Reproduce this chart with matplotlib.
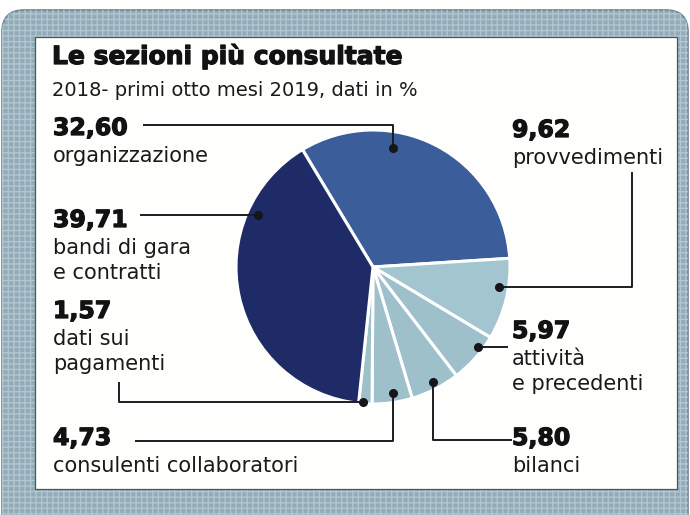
import numpy as np
import matplotlib.pyplot as plt
import matplotlib.patheffects as pe
from matplotlib.patches import FancyBboxPatch, Rectangle

W, H = 690, 515

# sezioni, valori in % (2018 - primi otto mesi 2019)
sezioni = ['organizzazione', 'provvedimenti', 'attività\ne precedenti', 'bilanci',
           'consulenti collaboratori', 'dati sui\npagamenti', 'bandi di gara\ne contratti']
valori = [32.60, 9.62, 5.97, 5.80, 4.73, 1.57, 39.71]
colori = ['#3b5e9b', '#a3c5cf', '#9dc0cb', '#9dc0cb', '#9dc0cb', '#9dc0cb', '#1f2b67']

titolo = 'Le sezioni più consultate'
sottotitolo = '2018- primi otto mesi 2019, dati in %'

# pixel layout (y measured from the top)
cx, cy, R = 373, 267, 137
# label: x, baseline of the number, (angle fraction along wedge, radius fraction), leader path
etichette = [
    (53, 135, (0.345, 0.88), [(None, 125), (143, 125)]),
    (512, 137, (0.364, 0.93), [(632, None), (632, 172)]),
    (512, 338, (0.29, 0.96), [(508, None)]),
    (512, 445, (0.48, 0.95), [(None, 440), (512, 440)]),
    (53, 445, (0.45, 0.93), [(None, 441), (135, 441)]),
    (53, 318, (0.68, 0.99), [(119, None), (119, 382)]),
    (53, 227, (0.757, 0.92), [(140, None)]),
]

FONT = ['DejaVu Sans']
pesante = [pe.withStroke(linewidth=0.9, foreground='#121212')]


def Y(y):
    return H - y


fig = plt.figure(figsize=(W / 100, H / 100), dpi=100)
ax = fig.add_axes([0, 0, 1, 1])

# cornice retinata e pannello bianco
bordo = FancyBboxPatch((2, -40), 686, H - 10 + 40, boxstyle='round,pad=0,rounding_size=22',
                       facecolor='#92abb9', edgecolor='#6f8594', lw=1.2, zorder=0)
ax.add_patch(bordo)
trama = FancyBboxPatch((2, -40), 686, H - 10 + 40, boxstyle='round,pad=0,rounding_size=22',
                       facecolor='none', edgecolor='#b2c6cf', hatch='+++', lw=0, zorder=0.5)
ax.add_patch(trama)
ax.add_patch(Rectangle((35, Y(489)), 642, 452, facecolor='#fefefc',
                       edgecolor='#4a5560', lw=0.9, zorder=1))

# torta
start = 121
wedges, _ = ax.pie(valori, colors=colori, startangle=start, counterclock=False,
                   center=(cx, Y(cy)), radius=R, frame=True,
                   wedgeprops=dict(edgecolor='white', linewidth=2.2))
for w in wedges:
    w.set_zorder(2)
ax.set_xlim(0, W)
ax.set_ylim(0, H)
ax.set_aspect('equal')
ax.axis('off')

# angoli dei settori (senso orario)
fine = start - 3.6 * np.cumsum(valori)
inizio = np.concatenate([[start], fine[:-1]])

for i, (nome, v) in enumerate(zip(sezioni, valori)):
    lx, by, (fa, fr), percorso = etichette[i]
    ang = np.deg2rad(inizio[i] - fa * (inizio[i] - fine[i]))
    dx = cx + fr * R * np.cos(ang)
    dy = cy - fr * R * np.sin(ang)
    xs, ys = [dx], [dy]
    for px, py in percorso:
        xs.append(dx if px is None else px)
        ys.append(dy if py is None else py)
    ax.plot(xs, [Y(y) for y in ys], color='#1c1c22', lw=1.4, zorder=3,
            solid_capstyle='butt')
    ax.plot(dx, Y(dy), 'o', color='#15151a', ms=5.5, zorder=4)

    ax.text(lx, Y(by), f'{v:.2f}'.replace('.', ','), family=FONT, weight='bold',
            fontsize=17, color='#121212', va='baseline', ha='left', zorder=5,
            path_effects=pesante)
    for k, riga in enumerate(nome.split('\n')):
        ax.text(lx, Y(by + 27 + 25 * k), riga, family=FONT, fontsize=15,
                color='#1a1a1a', va='baseline', ha='left', zorder=5)

ax.text(52, Y(64), titolo, family=FONT, weight='bold', fontsize=18,
        color='#121212', va='baseline', ha='left', zorder=5, path_effects=pesante)
ax.text(52, Y(96), sottotitolo, family=FONT, fontsize=14, color='#1a1a1a',
        va='baseline', ha='left', zorder=5)

fig.savefig('out.png', dpi=100)
